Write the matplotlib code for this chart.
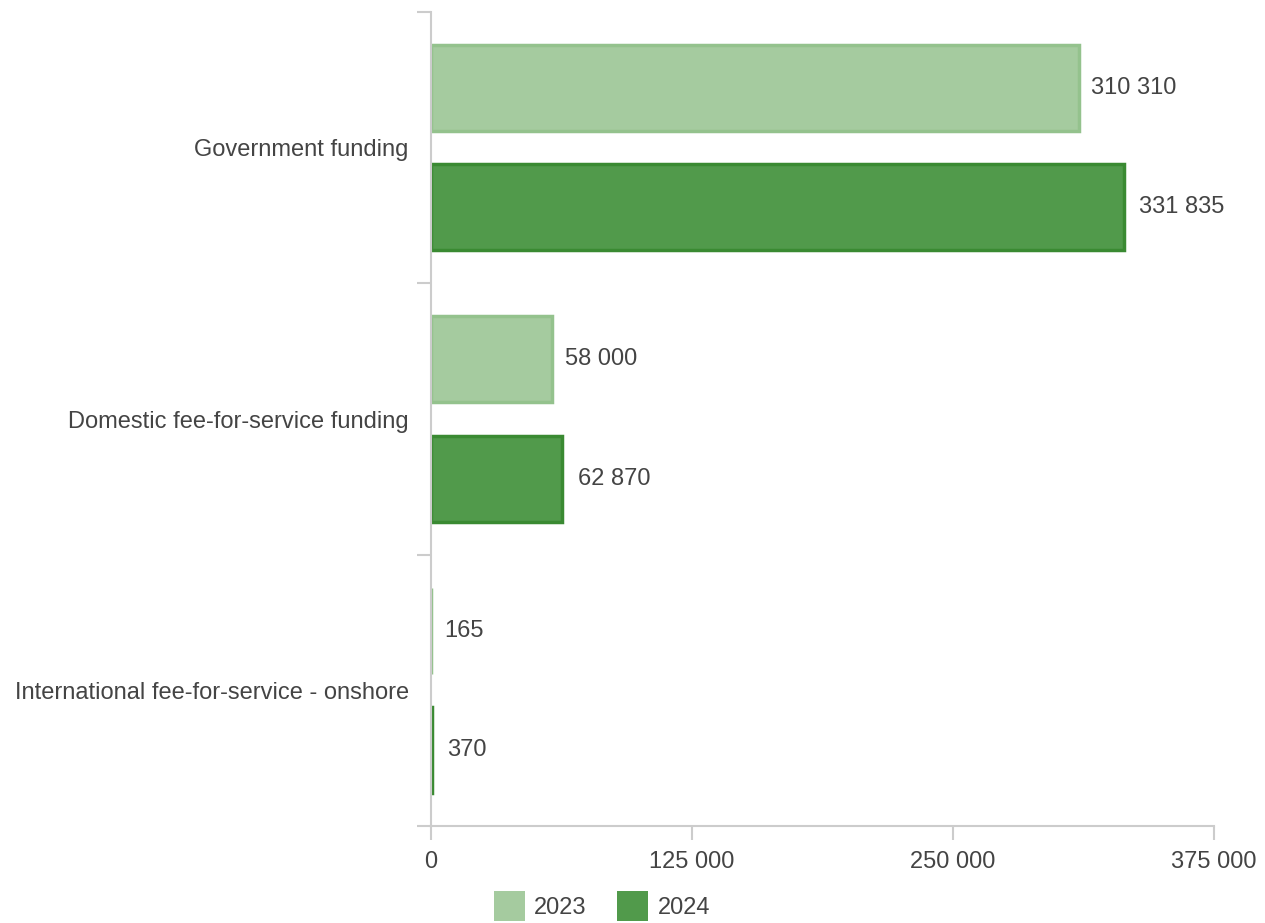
import matplotlib.pyplot as plt
import numpy as np
from matplotlib.patches import Patch

categories = ['Government funding', 'Domestic fee-for-service funding',
              'International fee-for-service - onshore']
values_2023 = [310310, 58000, 165]
values_2024 = [331835, 62870, 370]
series_names = ['2023', '2024']
x_ticks = [0, 125000, 250000, 375000]

plt.rcParams['font.family'] = ['Liberation Sans', 'DejaVu Sans']
text_col = '#444444'
axis_col = '#cccccc'
fills = ['#a5cb9f', '#519a4b']
edges = ['#94c28d', '#3a8a32']
fs = 17

fig = plt.figure(figsize=(12.65, 9.23), dpi=100)
ax = fig.add_axes([431 / 1265, 1 - 826 / 923, (1214 - 431) / 1265, (826 - 12) / 923])

ypos = np.arange(len(categories))
h = 0.317
off = 0.22
for i, (vals, name) in enumerate(zip([values_2023, values_2024], series_names)):
    yy = ypos + (-off if i == 0 else off)
    ax.barh(yy, vals, height=h, color=fills[i], edgecolor=edges[i], linewidth=2.5, label=name)
    for y, v in zip(yy, vals):
        ax.annotate(f'{v:,}'.replace(',', ' '), (v, y), xytext=(9 + 2 * i, 0), textcoords='offset points',
                    va='center', ha='left', fontsize=fs, color=text_col)

ax.set_ylim(len(categories) - 0.5, -0.5)
ax.set_xlim(0, 375000)
ax.set_yticks(ypos)
ax.set_yticklabels(categories)
ax.set_yticks(np.arange(len(categories) + 1) - 0.5, minor=True)
ax.tick_params(axis='y', which='major', length=0, pad=16, labelsize=fs, labelcolor=text_col)
ax.tick_params(axis='y', which='minor', length=10, color=axis_col, width=1.5)
ax.set_xticks(x_ticks)
ax.set_xticklabels([f'{t:,}'.replace(',', ' ') for t in x_ticks])
ax.tick_params(axis='x', length=10, color=axis_col, width=1.5, pad=8, labelsize=fs, labelcolor=text_col)

for s in ['top', 'right']:
    ax.spines[s].set_visible(False)
for s in ['left', 'bottom']:
    ax.spines[s].set_color(axis_col)
    ax.spines[s].set_linewidth(1.5)

handles = [Patch(facecolor=fills[i], edgecolor='none', label=series_names[i]) for i in range(2)]
fig.legend(handles=handles, loc='center', bbox_to_anchor=(602 / 1265, 1 - 906 / 923), ncol=2,
           frameon=False, fontsize=fs, handlelength=1.3, handleheight=1.6,
           columnspacing=1.3, handletextpad=0.4, labelcolor=text_col)

fig.savefig('out.png', dpi=100)
